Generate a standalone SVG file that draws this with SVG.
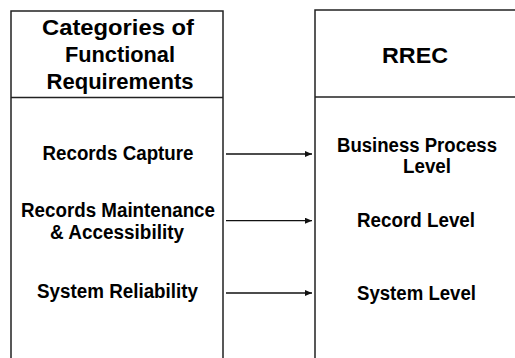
<svg xmlns="http://www.w3.org/2000/svg" width="515" height="358" viewBox="0 0 515 358">
<style>
.box{fill:none;stroke:#222;stroke-width:1.5}
.hd{font-family:"Liberation Sans",Arial,sans-serif;font-weight:bold;font-size:22px;fill:#000;text-anchor:middle}
.tx{font-family:"Liberation Sans",Arial,sans-serif;font-weight:bold;font-size:20px;fill:#000;text-anchor:middle}
.cn{stroke:#111;stroke-width:1.3;fill:none;marker-end:url(#ah)}
</style>
<defs>
<marker id="ah" markerWidth="8" markerHeight="6" refX="7" refY="3" orient="auto" markerUnits="userSpaceOnUse">
<path d="M0,0 L7,3 L0,6 Z" fill="#111"/>
</marker>
</defs>
<rect width="515" height="358" fill="#fff"/>
<g id="left-node">
<path class="box" d="M11,360 L11,11 L223,11 L223,360"/>
<line class="box" x1="11" y1="97.5" x2="223" y2="97.5"/>
<text class="hd" x="118" y="35" textLength="152" lengthAdjust="spacingAndGlyphs">Categories of</text>
<text class="hd" x="120" y="62" textLength="110" lengthAdjust="spacingAndGlyphs">Functional</text>
<text class="hd" x="120" y="89" textLength="147" lengthAdjust="spacingAndGlyphs">Requirements</text>
<text class="tx" x="118" y="160" textLength="151" lengthAdjust="spacingAndGlyphs">Records Capture</text>
<text class="tx" x="118" y="217" textLength="194" lengthAdjust="spacingAndGlyphs">Records Maintenance</text>
<text class="tx" x="117" y="239" textLength="134" lengthAdjust="spacingAndGlyphs">&amp; Accessibility</text>
<text class="tx" x="117.5" y="298" textLength="161" lengthAdjust="spacingAndGlyphs">System Reliability</text>
</g>
<g id="right-node">
<path class="box" d="M315,360 L315,10 L517,10"/>
<line class="box" x1="315" y1="97" x2="517" y2="97"/>
<text class="hd" x="415" y="63" textLength="66" lengthAdjust="spacingAndGlyphs">RREC</text>
<text class="tx" x="417" y="152" textLength="160" lengthAdjust="spacingAndGlyphs">Business Process</text>
<text class="tx" x="427" y="173" textLength="48" lengthAdjust="spacingAndGlyphs">Level</text>
<text class="tx" x="416" y="227" textLength="118" lengthAdjust="spacingAndGlyphs">Record Level</text>
<text class="tx" x="416.5" y="300" textLength="119" lengthAdjust="spacingAndGlyphs">System Level</text>
</g>
<g id="connectors">
<line class="cn" x1="226" y1="154" x2="312" y2="154"/>
<line class="cn" x1="226" y1="220.7" x2="312" y2="220.7"/>
<line class="cn" x1="226" y1="293" x2="312" y2="293"/>
</g>
</svg>
